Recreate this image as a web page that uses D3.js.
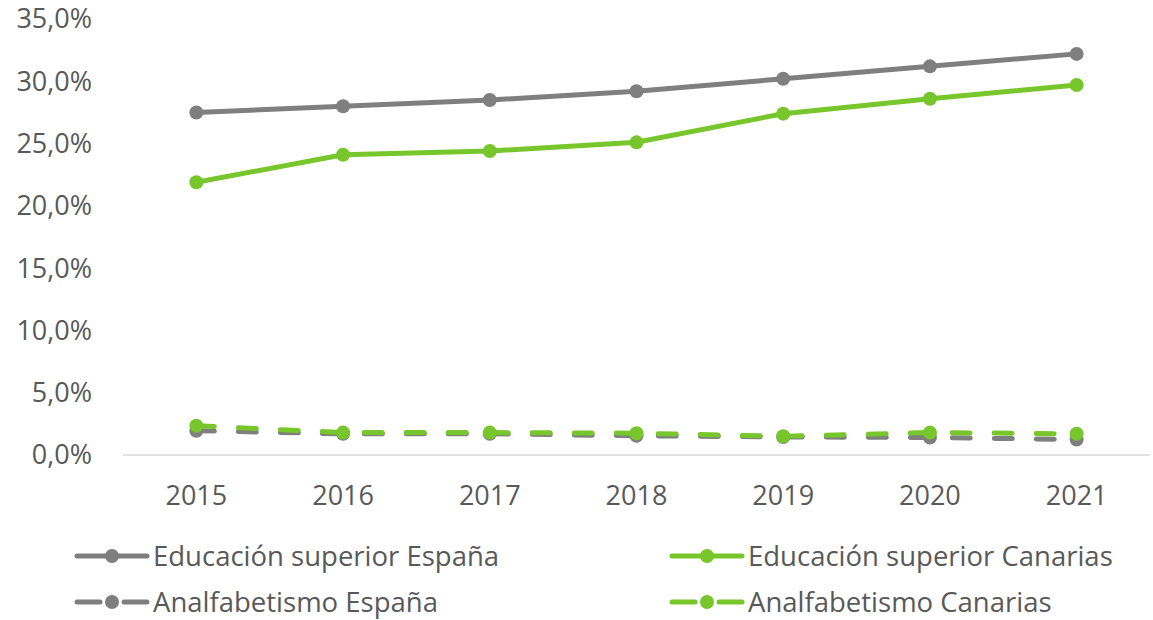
<!DOCTYPE html>
<html>
<head>
<meta charset="utf-8">
<style>
  body { margin: 0; background: #fff; }
  #chart { font-family: 'Open Sans', sans-serif; }
  #chart text { fill: #595959; }
</style>
</head>
<body>
<div id="chart"></div>
<script src="https://d3js.org/d3.v7.min.js"></script>
<script>
  var years = ["2015", "2016", "2017", "2018", "2019", "2020", "2021"];
  var eduEspana = [27.5, 28.0, 28.5, 29.2, 30.2, 31.2, 32.2];
  var eduCanarias = [21.9, 24.1, 24.4, 25.1, 27.4, 28.6, 29.7];
  var analfEspana = [1.95, 1.7, 1.7, 1.55, 1.45, 1.4, 1.25];
  var analfCanarias = [2.35, 1.8, 1.8, 1.75, 1.5, 1.8, 1.7];
  var yTicks = [0, 5, 10, 15, 20, 25, 30, 35];

  var gray = "#7f7f7f", green = "#76c62c";
  var series = [
    { name: "Educación superior España", values: eduEspana, color: gray, dashed: false },
    { name: "Educación superior Canarias", values: eduCanarias, color: green, dashed: false },
    { name: "Analfabetismo España", values: analfEspana, color: gray, dashed: true },
    { name: "Analfabetismo Canarias", values: analfCanarias, color: green, dashed: true }
  ];

  var width = 1153, height = 620;
  var svg = d3.select("#chart").append("svg").attr("width", width).attr("height", height);

  var x = d3.scaleBand().domain(years).range([123, 1150]);
  var y = d3.scaleLinear().domain([0, 35]).range([455, 19]);

  // y axis labels
  svg.selectAll(".ylab").data(yTicks).enter().append("text")
    .attr("class", "ylab")
    .attr("x", 92).attr("y", function(d) { return y(d); })
    .attr("dy", "0.35em")
    .attr("text-anchor", "end")
    .style("font-size", "27px")
    .text(function(d) { return d.toFixed(1).replace(".", ",") + "%"; });

  // baseline
  svg.append("line")
    .attr("x1", 123).attr("x2", 1150)
    .attr("y1", y(0)).attr("y2", y(0))
    .attr("stroke", "#d9d9d9").attr("stroke-width", 1.5);

  // x labels
  svg.selectAll(".xlab").data(years).enter().append("text")
    .attr("class", "xlab")
    .attr("x", function(d) { return x(d) + x.bandwidth() / 2; })
    .attr("y", 505)
    .attr("text-anchor", "middle")
    .style("font-size", "27px")
    .text(function(d) { return d; });

  var line = d3.line()
    .x(function(d, i) { return x(years[i]) + x.bandwidth() / 2; })
    .y(function(d) { return y(d); });

  // dashed series under solid ones
  var order = [2, 3, 0, 1];
  order.forEach(function(k) {
    var s = series[k];
    var g = svg.append("g");
    g.append("path")
      .attr("d", line(s.values))
      .attr("fill", "none")
      .attr("stroke", s.color)
      .attr("stroke-width", 5)
      .attr("stroke-linecap", "round")
      .attr("stroke-linejoin", "round")
      .attr("stroke-dasharray", s.dashed ? "18,24" : null);
    g.selectAll("circle").data(s.values).enter().append("circle")
      .attr("cx", function(d, i) { return x(years[i]) + x.bandwidth() / 2; })
      .attr("cy", function(d) { return y(d); })
      .attr("r", 7)
      .attr("fill", s.color);
  });

  // legend
  var legPos = [[77, 556], [672, 556], [77, 602], [672, 602]];
  series.forEach(function(s, i) {
    var lx = legPos[i][0], ly = legPos[i][1];
    var g = svg.append("g");
    if (s.dashed) {
      g.append("line").attr("x1", lx).attr("x2", lx + 23).attr("y1", ly).attr("y2", ly);
      g.append("line").attr("x1", lx + 47).attr("x2", lx + 70).attr("y1", ly).attr("y2", ly);
    } else {
      g.append("line").attr("x1", lx).attr("x2", lx + 70).attr("y1", ly).attr("y2", ly);
    }
    g.selectAll("line").attr("stroke", s.color).attr("stroke-width", 5).attr("stroke-linecap", "round");
    g.append("circle").attr("cx", lx + 35).attr("cy", ly).attr("r", 7).attr("fill", s.color);
    g.append("text")
      .attr("x", lx + 76).attr("y", ly)
      .attr("dy", "0.35em")
      .style("font-size", "27.5px")
      .text(s.name);
  });
</script>
</body>
</html>
